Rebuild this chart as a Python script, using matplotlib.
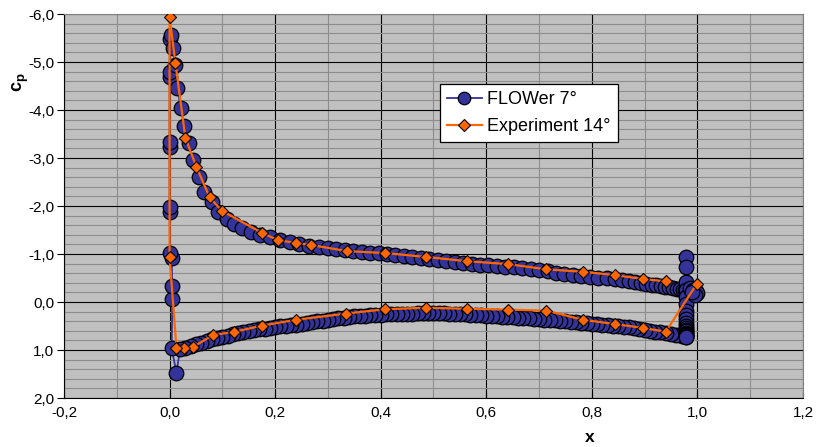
import matplotlib
matplotlib.use("Agg")
import matplotlib.pyplot as plt
from matplotlib.ticker import MultipleLocator, FixedLocator
from matplotlib.lines import Line2D

plt.rcParams['font.family'] = ['Liberation Sans', 'DejaVu Sans']

# ---------------- data ----------------
# FLOWer 7 deg : lower surface (trailing edge -> leading edge)
lower_x = [0.97, 0.96, 0.95, 0.94, 0.93, 0.92, 0.91, 0.90, 0.89, 0.88, 0.87, 0.86, 0.85, 0.84,
           0.83, 0.82, 0.81, 0.80, 0.79, 0.78, 0.77, 0.76, 0.75, 0.74, 0.73, 0.72, 0.71, 0.70,
           0.69, 0.68, 0.67, 0.66, 0.65, 0.64, 0.63, 0.62, 0.61, 0.60, 0.59, 0.58, 0.57, 0.56,
           0.55, 0.54, 0.53, 0.52, 0.51, 0.50, 0.49, 0.48, 0.47, 0.46, 0.45, 0.44, 0.43, 0.42,
           0.41, 0.40, 0.39, 0.38, 0.37, 0.36, 0.35, 0.34, 0.33, 0.32, 0.31, 0.30, 0.29, 0.28,
           0.27, 0.26, 0.25, 0.24, 0.23, 0.22, 0.21, 0.20, 0.19, 0.18, 0.17, 0.16, 0.15, 0.14,
           0.13, 0.12, 0.11, 0.10, 0.09, 0.08, 0.07, 0.06, 0.05, 0.04, 0.03]
lower_cp = [0.71, 0.69, 0.67, 0.65, 0.63, 0.62, 0.60, 0.58, 0.56, 0.55, 0.53, 0.52, 0.50, 0.49,
            0.48, 0.47, 0.46, 0.45, 0.44, 0.43, 0.42, 0.41, 0.40, 0.39, 0.38, 0.37, 0.37, 0.36,
            0.35, 0.34, 0.34, 0.33, 0.32, 0.31, 0.31, 0.30, 0.30, 0.29, 0.28, 0.28, 0.27, 0.26,
            0.25, 0.24, 0.24, 0.23, 0.23, 0.23, 0.23, 0.23, 0.23, 0.24, 0.24, 0.25, 0.25, 0.26,
            0.26, 0.27, 0.27, 0.28, 0.29, 0.29, 0.30, 0.31, 0.33, 0.34, 0.36, 0.37, 0.39, 0.40,
            0.42, 0.43, 0.45, 0.47, 0.48, 0.50, 0.51, 0.53, 0.54, 0.56, 0.57, 0.59, 0.61, 0.63,
            0.65, 0.67, 0.70, 0.72, 0.75, 0.78, 0.81, 0.85, 0.88, 0.92, 0.96]
# leading edge region
le_x = [0.020, 0.013, 0.004, 0.005, 0.005, 0.004, 0.001, 0.000, 0.000, 0.000, 0.000,
        0.000, 0.000, 0.001, 0.002]
le_cp = [0.97, 1.48, 0.96, -0.06, -0.33, -0.92, -1.02, -1.88, -1.98, -3.23, -3.33,
         -4.69, -4.79, -5.48, -5.56]
# upper surface (leading edge -> trailing edge)
upper_x = [0.006, 0.010, 0.015, 0.021, 0.028, 0.036, 0.044, 0.055, 0.066, 0.080, 0.091,
           0.108, 0.123, 0.138, 0.155, 0.171, 0.190, 0.209, 0.228, 0.246, 0.265, 0.284,
           0.300, 0.316, 0.332, 0.348, 0.364, 0.380, 0.396, 0.412, 0.428, 0.444, 0.460,
           0.476, 0.492, 0.508, 0.524, 0.540, 0.556, 0.572, 0.588, 0.604, 0.620, 0.636,
           0.652, 0.668, 0.684, 0.700, 0.716, 0.732, 0.748, 0.764, 0.780, 0.796, 0.812,
           0.828, 0.844, 0.858, 0.870, 0.882, 0.893, 0.903, 0.913, 0.922, 0.931, 0.939,
           0.947, 0.954, 0.961, 0.967, 0.972, 0.976]
upper_cp = [-5.29, -4.94, -4.46, -4.04, -3.67, -3.31, -2.96, -2.60, -2.29, -2.08, -1.88,
            -1.73, -1.63, -1.54, -1.46, -1.40, -1.35, -1.29, -1.25, -1.21, -1.17, -1.15,
            -1.13, -1.11, -1.09, -1.07, -1.05, -1.03, -1.02, -1.00, -0.98, -0.96, -0.94,
            -0.92, -0.90, -0.88, -0.86, -0.84, -0.82, -0.80, -0.78, -0.77, -0.75, -0.73,
            -0.72, -0.70, -0.68, -0.66, -0.64, -0.61, -0.59, -0.56, -0.54, -0.52, -0.50,
            -0.49, -0.47, -0.45, -0.43, -0.41, -0.39, -0.38, -0.36, -0.35, -0.33, -0.32,
            -0.31, -0.30, -0.28, -0.27, -0.26, -0.25]
# trailing edge region
te_x = [0.978, 0.978, 0.978, 0.978, 0.978, 0.978, 0.978, 0.978, 0.978, 0.978, 0.978,
        0.978, 0.978, 0.978, 0.978, 0.978, 0.978, 0.978, 0.978, 0.978,
        0.985, 0.992, 0.998, 1.000, 0.996, 0.990]
te_cp = [-0.94, -0.73, -0.42, -0.25, -0.10, 0.05, 0.18, 0.28, 0.36, 0.43, 0.49, 0.54,
         0.58, 0.61, 0.64, 0.66, 0.68, 0.70, 0.72, 0.73,
         -0.30, -0.26, -0.22, -0.18, -0.14, -0.20]

flower_x = lower_x + le_x + upper_x + te_x
flower_cp = lower_cp + le_cp + upper_cp + te_cp

# Experiment 14 deg (closed loop)
exp_x = [0.999, 0.940, 0.897, 0.844, 0.783, 0.714, 0.641, 0.563, 0.485, 0.409, 0.335,
         0.240, 0.176, 0.123, 0.082, 0.044, 0.028, 0.013, 0.000, 0.000, 0.011, 0.030,
         0.051, 0.076, 0.099, 0.175, 0.205, 0.239, 0.267, 0.336, 0.408, 0.485, 0.563,
         0.641, 0.714, 0.783, 0.844, 0.897, 0.940]
exp_cp = [-0.38, 0.62, 0.54, 0.46, 0.37, 0.18, 0.16, 0.14, 0.12, 0.15, 0.24,
          0.37, 0.49, 0.62, 0.69, 0.94, 0.96, 0.95, -0.94, -5.94, -4.98, -3.42,
          -2.81, -2.18, -1.90, -1.44, -1.29, -1.23, -1.19, -1.06, -1.02, -0.94, -0.85,
          -0.79, -0.68, -0.63, -0.56, -0.48, -0.43]

x_ticks = [-0.2, 0.0, 0.2, 0.4, 0.6, 0.8, 1.0, 1.2]
y_ticks = [-6.0, -5.0, -4.0, -3.0, -2.0, -1.0, 0.0, 1.0, 2.0]
series_names = ["FLOWer 7°", "Experiment 14°"]

# ---------------- figure ----------------
fig = plt.figure(figsize=(8.2, 4.47), dpi=100)
ax = fig.add_axes([64/820, 1 - 398/447, (803 - 64)/820, (398 - 14)/447])
ax.set_facecolor('#C0C0C0')

ax.set_xlim(-0.2, 1.2)
ax.set_ylim(2.0, -6.0)

def fmt(v):
    s = f"{v:.1f}".replace('.', ',')
    if s == "-0,0":
        s = "0,0"
    return s

ax.xaxis.set_major_locator(FixedLocator(x_ticks))
ax.yaxis.set_major_locator(FixedLocator(y_ticks))
ax.set_xticklabels([fmt(v) for v in x_ticks], fontsize=11)
ax.set_yticklabels([fmt(v) for v in y_ticks], fontsize=11)
ax.xaxis.set_minor_locator(MultipleLocator(0.1))
ax.yaxis.set_minor_locator(MultipleLocator(0.2))

ax.grid(which='minor', color='#8C8C8C', linewidth=0.8, zorder=0)
ax.grid(which='major', color='#000000', linewidth=0.8, zorder=0)
ax.set_axisbelow(True)

ax.tick_params(axis='y', which='major', direction='out', length=5, width=0.8, pad=2)
ax.tick_params(axis='x', which='major', direction='in', length=4, width=0.8, pad=6)
ax.tick_params(which='minor', length=0)

for side in ['left', 'bottom']:
    ax.spines[side].set_color('black')
    ax.spines[side].set_linewidth(0.8)
for side in ['top', 'right']:
    ax.spines[side].set_color('#808080')
    ax.spines[side].set_linewidth(0.8)

navy = '#333399'
orange = '#FF6600'

ax.plot(flower_x, flower_cp, color=navy, linewidth=1.3, marker='o', markersize=10.5,
        markerfacecolor=navy, markeredgecolor='black', markeredgewidth=0.9, zorder=3)
ax.plot(exp_x, exp_cp, color=orange, linewidth=1.6, marker='D', markersize=6.5,
        markerfacecolor=orange, markeredgecolor='black', markeredgewidth=0.8, zorder=4)

handles = [
    Line2D([], [], color=navy, linewidth=1.3, marker='o', markersize=9,
           markerfacecolor=navy, markeredgecolor='black', markeredgewidth=0.9),
    Line2D([], [], color=orange, linewidth=1.6, marker='D', markersize=6,
           markerfacecolor=orange, markeredgecolor='black', markeredgewidth=0.8),
]
leg = ax.legend(handles, series_names, loc='upper left',
                bbox_to_anchor=((440 - 64)/739, 1 - (84 - 14)/384),
                fontsize=13, frameon=True, fancybox=False, framealpha=1,
                edgecolor='black', borderpad=0.4, handlelength=1.9,
                handletextpad=0.3, labelspacing=0.55, borderaxespad=0)
leg.get_frame().set_linewidth(0.9)

fig.text(17/820, 1 - 86/447, 'c', rotation=90, fontsize=13, fontweight='bold',
         ha='center', va='center')
fig.text(21/820, 1 - 77/447, 'p', rotation=90, fontsize=9.5, fontweight='bold',
         ha='center', va='center')
fig.text(590/820, 1 - 437/447, 'x', fontsize=12.5, fontweight='bold',
         ha='center', va='center')

fig.savefig('out.png', dpi=100, facecolor='white')
